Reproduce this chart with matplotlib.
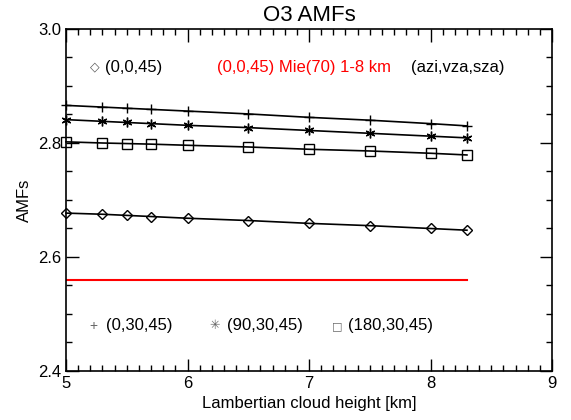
import matplotlib
matplotlib.use('Agg')
import matplotlib.pyplot as plt
from matplotlib.ticker import MultipleLocator, FormatStrFormatter

plt.rcParams['font.family'] = ['Liberation Sans', 'DejaVu Sans']

# cloud height [km]
height = [5.0, 5.3, 5.5, 5.7, 6.0, 6.5, 7.0, 7.5, 8.0, 8.3]

# AMFs for (azi,vza,sza)
amf_0_0_45 = [2.677, 2.675, 2.673, 2.671, 2.668, 2.664, 2.659, 2.655, 2.650, 2.647]
amf_0_30_45 = [2.866, 2.863, 2.861, 2.859, 2.856, 2.851, 2.845, 2.840, 2.834, 2.830]
amf_90_30_45 = [2.841, 2.838, 2.836, 2.834, 2.831, 2.827, 2.822, 2.817, 2.812, 2.809]
amf_180_30_45 = [2.802, 2.800, 2.799, 2.798, 2.796, 2.793, 2.789, 2.786, 2.782, 2.779]

# Mie(70) 1-8 km reference
mie_x = [5.0, 8.3]
mie_amf = [2.56, 2.56]

fig = plt.figure(figsize=(5.71, 4.2), dpi=100)
ax = fig.add_axes([66/571, 49/420, 486/571, 342/420])

lw = 1.2
ax.plot(height, amf_0_0_45, color='k', lw=lw, marker='D', ms=5, mfc='none', mew=1.0, clip_on=False)
ax.plot(height, amf_0_30_45, color='k', lw=lw, marker='+', ms=7.5, mew=1.0, clip_on=False)
ax.plot(height, amf_90_30_45, color='k', lw=lw, marker=(6, 2, 0), ms=7, mew=1.0, clip_on=False)
ax.plot(height, amf_180_30_45, color='k', lw=lw, marker='s', ms=6.5, mfc='none', mew=1.0, clip_on=False)
ax.plot(mie_x, mie_amf, color='red', lw=1.5)

ax.set_xlim(5, 9)
ax.set_ylim(2.4, 3.0)
ax.xaxis.set_major_locator(MultipleLocator(1))
ax.xaxis.set_minor_locator(MultipleLocator(0.1))
ax.yaxis.set_major_locator(MultipleLocator(0.2))
ax.yaxis.set_minor_locator(MultipleLocator(0.05))
ax.yaxis.set_major_formatter(FormatStrFormatter('%.1f'))
ax.tick_params(which='both', direction='in', top=True, right=True, labelsize=12)
ax.tick_params(which='major', length=9, width=1)
ax.tick_params(which='minor', length=4, width=1)
for s in ax.spines.values():
    s.set_linewidth(1.2)

ax.set_title('O3 AMFs', fontsize=16, pad=6)
ax.set_xlabel('Lambertian cloud height [km]', fontsize=12, labelpad=4)
ax.set_ylabel('AMFs', fontsize=12, labelpad=4)

# annotations (IDL style xyouts)
ax.text(5.239, 2.932, '\u25c7', color='0.35', fontsize=9, va='center', ha='center')
ax.text(5.321, 2.932, '(0,0,45)', fontsize=12, va='center')
ax.text(6.243, 2.932, '(0,0,45) Mie(70) 1-8 km', color='red', fontsize=12, va='center')
ax.text(7.84, 2.932, '(azi,vza,sza)', fontsize=12, va='center')

ax.text(5.222, 2.479, '+', color='0.4', fontsize=10, va='center', ha='center')
ax.text(5.329, 2.479, '(0,30,45)', fontsize=12, va='center')
ax.text(6.226, 2.479, '\u2733', color='0.4', fontsize=9, va='center', ha='center',
        family=['DejaVu Sans'])
ax.text(6.325, 2.479, '(90,30,45)', fontsize=12, va='center')
ax.text(7.23, 2.479, '\u25a1', color='0.4', fontsize=8, va='center', ha='center',
        family=['DejaVu Sans'])
ax.text(7.321, 2.479, '(180,30,45)', fontsize=12, va='center')

plt.savefig('out.png', dpi=100)
plt.close()
